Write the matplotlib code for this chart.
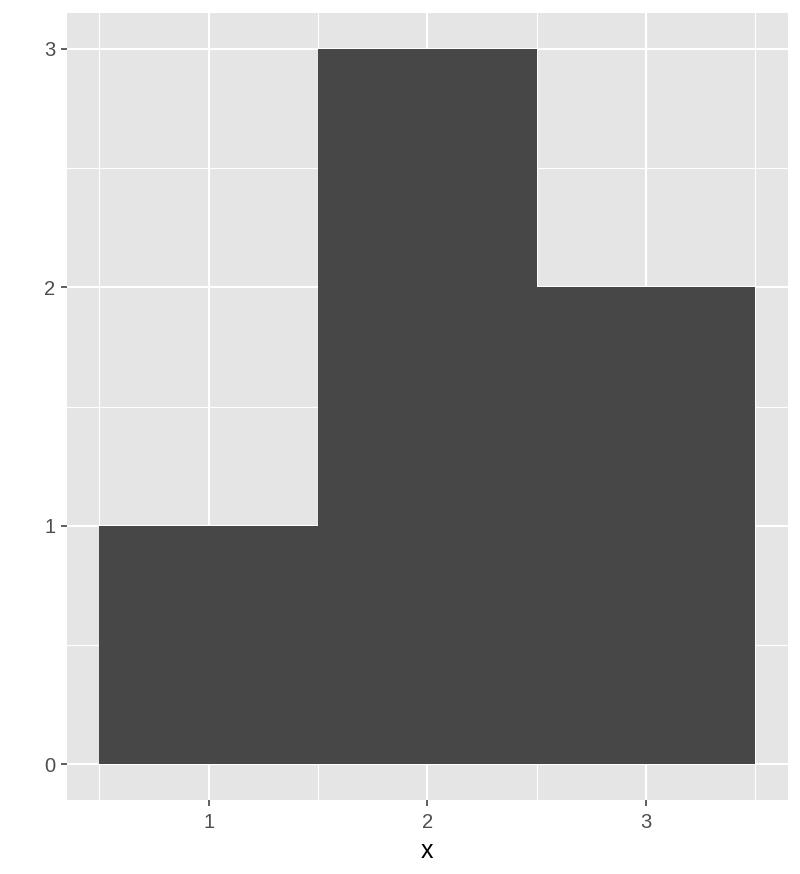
import matplotlib
matplotlib.use("Agg")
import matplotlib.pyplot as plt
from matplotlib.ticker import MultipleLocator

# data
categories = [1, 2, 3]
counts = [1, 3, 2]

plt.rcParams["font.family"] = ["Liberation Sans", "DejaVu Sans"]

fig = plt.figure(figsize=(8, 8.74), dpi=100)
ax = fig.add_axes([66.7 / 800, 74 / 874, (788 - 66.7) / 800, (861 - 74) / 874])

ax.set_facecolor("#E5E5E5")
ax.bar(categories, counts, width=1.0, color="#474747", linewidth=0, zorder=3)

ax.set_xlim(0.35, 3.65)
ax.set_ylim(-0.15, 3.15)
ax.xaxis.set_major_locator(MultipleLocator(1))
ax.yaxis.set_major_locator(MultipleLocator(1))
ax.xaxis.set_minor_locator(MultipleLocator(0.5))
ax.yaxis.set_minor_locator(MultipleLocator(0.5))

ax.grid(which="major", color="white", linewidth=1.5, zorder=1)
ax.grid(which="minor", color="white", linewidth=0.8, zorder=1)
ax.set_axisbelow(True)

for s in ax.spines.values():
    s.set_visible(False)

ax.tick_params(which="major", length=4, width=1.1, color="#333333",
               labelsize=14.5, labelcolor="#4D4D4D", pad=4)
ax.tick_params(axis="x", which="major", pad=5.5)
ax.tick_params(which="minor", length=0)
ax.set_xticklabels([], minor=True)

ax.set_xlabel("x", fontsize=18, color="black", labelpad=5)

fig.savefig("out.png", dpi=100, facecolor="white")
